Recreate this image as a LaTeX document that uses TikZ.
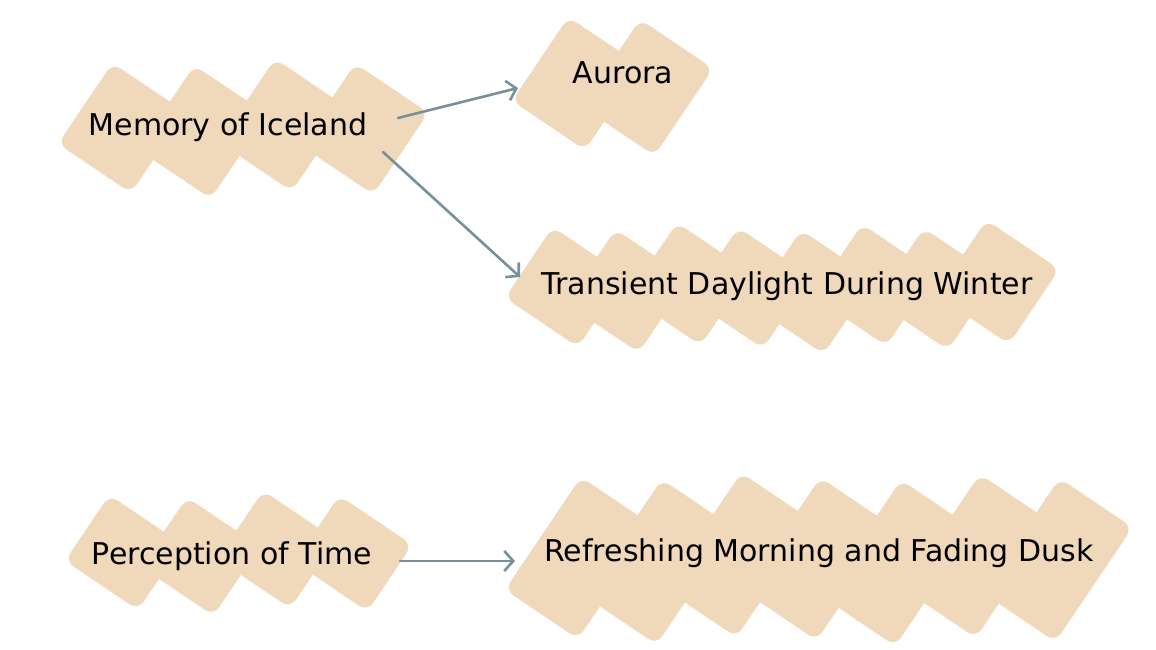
\documentclass[tikz,border=0pt]{standalone}
\usepackage{fontspec}
\setmainfont{DejaVu Sans}
\usetikzlibrary{arrows.meta}
\definecolor{brushc}{HTML}{EFD9BA}
\definecolor{arrc}{HTML}{77909B}
% one tilted brush stroke: centre x, centre y, length, thickness
\newcommand\brushstroke[4]{%
  \pgfmathsetmacro\bcx{#1}\pgfmathsetmacro\bcy{#2}%
  \pgfmathsetmacro\bl{#3/2}\pgfmathsetmacro\bt{#4/2}%
  \fill[brushc, rounded corners=10pt, rotate around={56:(\bcx,\bcy)}]
    ({\bcx-\bl},{\bcy-\bt}) rectangle ({\bcx+\bl},{\bcy+\bt});}
% row of strokes: x1 y1 x2 y2 n
\newcommand\brushrow[5]{%
  \pgfmathsetmacro\bT{88}%
  \pgfmathsetmacro\bH{#4-#2-10}%
  \pgfmathsetmacro\bW{((\bH-\bT*cos(56))/sin(56))*cos(56)+\bT*sin(56)}%
  \pgfmathsetmacro\bsp{(#3-#1-\bW)/(#5-1)}%
  \pgfmathtruncatemacro\bn{#5-1}%
  \foreach \i in {0,...,\bn}{%
    \pgfmathsetmacro\bj{mod(\i*37+5,11)-5}%
    \pgfmathsetmacro\bLL{(\bH+abs(\bj)*0.8-\bT*cos(56))/sin(56)}%
    \pgfmathsetmacro\bx{#1+\bW/2+\i*\bsp}%
    \pgfmathsetmacro\by{(#2+#4)/2+\bj}%
    \brushstroke{\bx}{\by}{\bLL}{\bT}%
  }}
\begin{document}
\begin{tikzpicture}[x=1pt,y=-1pt,
  lbl/.style={inner sep=0pt, font=\fontsize{30}{34}\selectfont, text=black},
  arr/.style={draw=arrc, line width=2.6pt, line cap=round,
    -{Straight Barb[length=9pt,width=20pt]}}]
\useasboundingbox (0,0) rectangle (1156,650);
\fill[white] (0,0) rectangle (1156,650);
% brush backgrounds
\brushrow{58}{58}{428}{198}{4}
\brushrow{512}{12}{712}{155}{2}
\brushrow{505}{222}{1058}{352}{8}
\brushrow{65}{490}{412}{615}{4}
\brushrow{505}{472}{1132}{644}{7}
% labels
\node[lbl] (mem) at (228,127) {Memory of Iceland};
\node[lbl] (aur) at (623,73) {Aurora};
\node[lbl] (tra) at (787,286) {Transient Daylight During Winter};
\node[lbl] (per) at (232,556) {Perception of Time};
\node[lbl] (ref) at (819,553) {Refreshing Morning and Fading Dusk};
% connectors
\draw[arr] ([xshift=170pt,yshift=9pt]mem.center) -- ([xshift=-105pt,yshift=-15pt]aur.center);
\draw[arr] ([xshift=155pt,yshift=-25pt]mem.center) -- ([xshift=-267pt,yshift=9pt]tra.center);
\draw[arr] ([xshift=168pt,yshift=-5pt]per.center) -- ([xshift=-304pt,yshift=-8pt]ref.center);
\end{tikzpicture}
\end{document}
